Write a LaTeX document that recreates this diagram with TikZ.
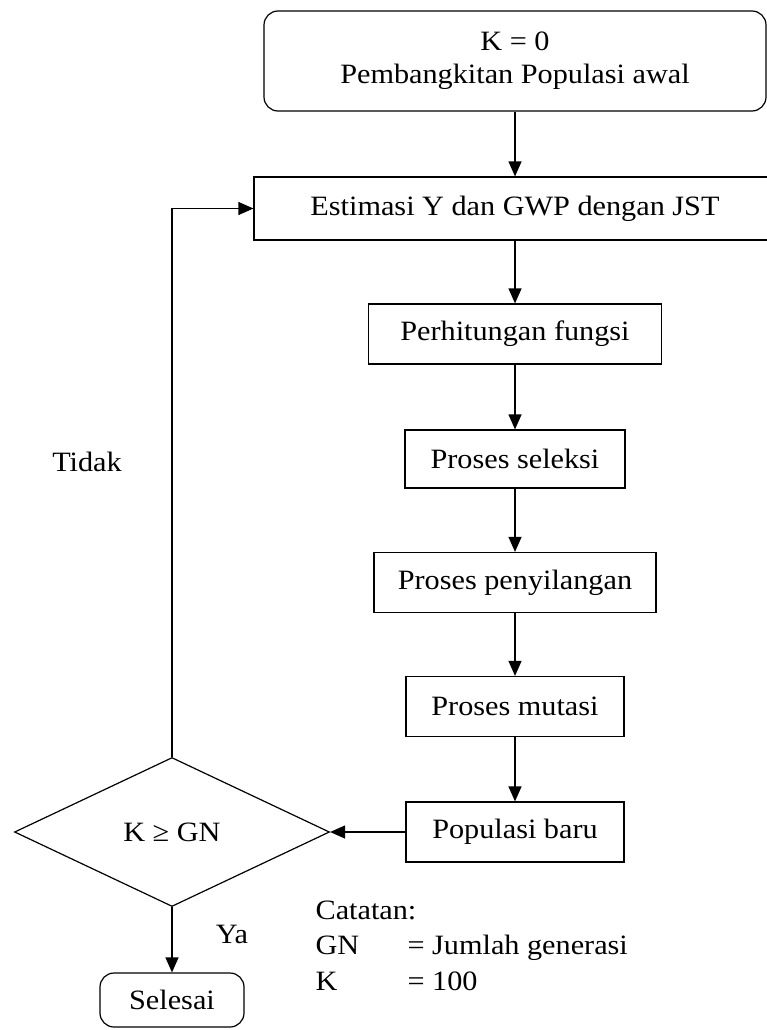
\documentclass[tikz,border=0pt]{standalone}
\usepackage{fontspec}
\setmainfont{Liberation Serif}[FakeStretch=1.08]
\usetikzlibrary{shapes.geometric,arrows.meta}

\begin{document}
\begin{tikzpicture}[x=1pt, y=-1pt, line width=1.2pt,
	every node/.style={font=\fontsize{28}{33}\selectfont},
	box/.style={draw, inner sep=0pt, minimum height=60pt},
	rbox/.style={box, rounded corners=14pt},
	dec/.style={draw, diamond, inner sep=0pt, minimum width=315pt, minimum height=149pt},
	arr/.style={-{Triangle[length=15pt,width=13pt]}},
	note/.style={anchor=base west, inner sep=0pt}]
			\useasboundingbox (0,0) rectangle (766,1030);

			\node[rbox, minimum width=502pt, minimum height=100pt, align=center] (start) at (515,61) {K = 0\\Pembangkitan Populasi awal};
			\node[box, minimum width=522pt, minimum height=63pt] (estimasi) at (515,208.5) {Estimasi Y dan GWP dengan JST};
			\node[box, minimum width=293pt] (hitung) at (515,334) {Perhitungan fungsi};
			\node[box, minimum width=220pt, minimum height=58pt] (seleksi) at (515,459) {Proses seleksi};
			\node[box, minimum width=282pt] (silang) at (515,582.5) {Proses penyilangan};
			\node[box, minimum width=218pt] (mutasi) at (515,706.5) {Proses mutasi};
			\node[box, minimum width=218pt] (baru) at (515,832) {Populasi baru};
			\node[dec] (cek) at (172,832) {K ≥ GN};
			\node[rbox, minimum width=144pt, minimum height=54pt] (selesai) at (172,1000) {Selesai};

			\node (tidak) at (87,462) {Tidak};
			\node (ya) at (232,934) {Ya};
			\node[note] (catatan) at (315,919) {Catatan:};
			\node[note] (gn) at (315,954) {GN};
			\node[note] (gnisi) at (407,954) {= Jumlah generasi};
			\node[note] (k) at (315,990) {K};
			\node[note] (kisi) at (407,990) {= 100};

			\draw[arr] (start) -- (estimasi);
			\draw[arr] (estimasi) -- (hitung);
			\draw[arr] (hitung) -- (seleksi);
			\draw[arr] (seleksi) -- (silang);
			\draw[arr] (silang) -- (mutasi);
			\draw[arr] (mutasi) -- (baru);
			\draw[arr] (baru) -- (cek);
			\draw[arr] (cek) -- (selesai);
			\draw[arr] (cek.north) |- (estimasi.west);
		\end{tikzpicture}
\end{document}
